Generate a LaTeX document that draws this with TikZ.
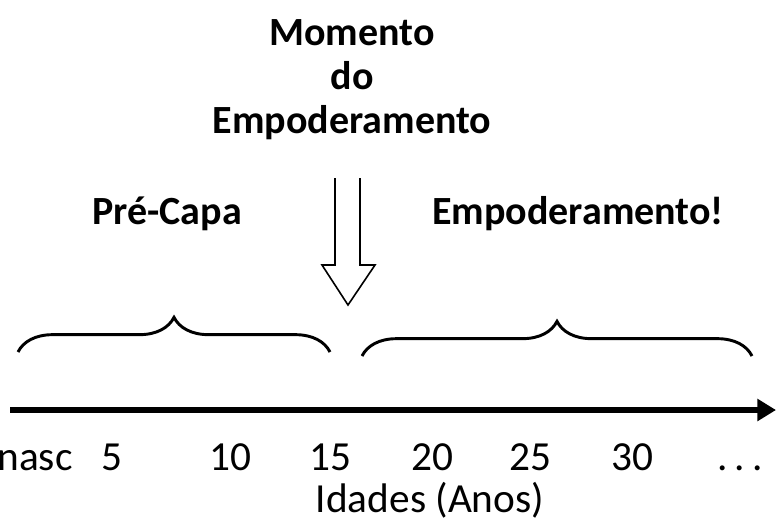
\documentclass[tikz,border=0pt]{standalone}
\usepackage{fontspec}
\setmainfont{Carlito}
\usetikzlibrary{decorations.pathreplacing,arrows.meta}
\begin{document}
\begin{tikzpicture}[x=0.75pt,y=-0.75pt,
  lbl/.style={font=\fontsize{31}{34}\selectfont,inner sep=0},
  bl/.style={lbl,font=\fontsize{30}{33}\selectfont\bfseries},
  br/.style={draw,line width=2.2pt,decorate,decoration={brace,amplitude=26pt}}]
\useasboundingbox (0,0) rectangle (780,525);
\node[bl,align=center] (title) at (352,80) {Momento\\do\\Empoderamento};
\node[bl] (pre) at (167,214) {Pré-Capa};
\node[bl] (emp) at (578,214) {Empoderamento!};
\draw[line width=1.2pt] (335,178) -- (335,265) -- (322,265) -- (348,305) -- (375,265) -- (360,265) -- (360,178);
\coordinate (l1) at (18,352); \coordinate (l2) at (330,352);
\coordinate (r1) at (362,356); \coordinate (r2) at (752,356);
\draw[br] (l1) -- (l2);
\draw[br] (r1) -- (r2);
\coordinate (a1) at (10,410); \coordinate (a2) at (776,410);
\draw[line width=4pt,-{Triangle[length=14pt,width=16pt]}] (a1) -- (a2);
\foreach \x/\t/\n in {35/nasc/t0,112/5/t1,230/10/t2,330/15/t3,432/20/t4,530/25/t5,632/30/t6,740/{.\,.\,.}/t7}
  \node[lbl,anchor=base] (\n) at (\x,470) {\t};
\node[lbl,anchor=base] (ax) at (430,512) {Idades (Anos)};
\end{tikzpicture}
\end{document}
